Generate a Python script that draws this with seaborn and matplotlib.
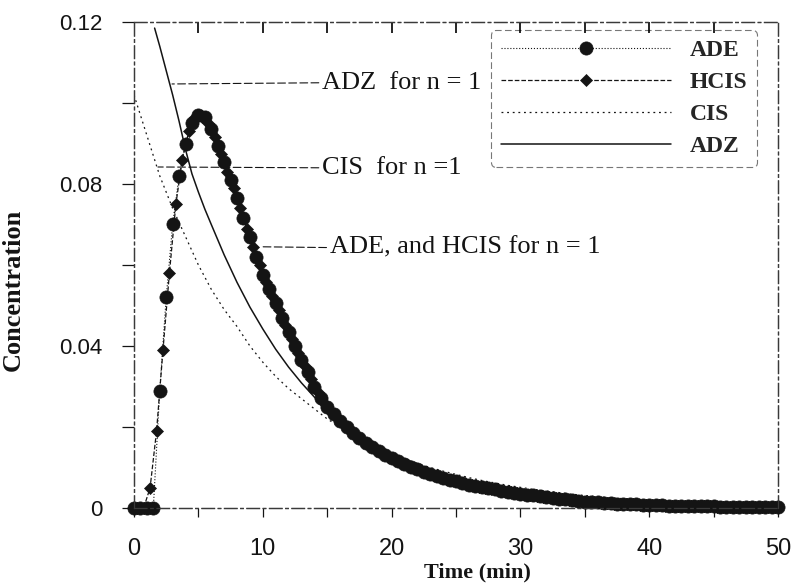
import numpy as np
import pandas as pd
import seaborn as sns
import matplotlib.pyplot as plt
from matplotlib.ticker import MultipleLocator, FuncFormatter

# ADE (cercles) : pas de 0.5 min
ade_time = np.linspace(0, 50, 101)
ade_conc = [
    0, 0, 0, 0,
    0.029, 0.052, 0.070, 0.082, 0.090, 0.095,
    0.097, 0.0965, 0.0935, 0.0895, 0.0855, 0.081, 0.0765, 0.0715, 0.067, 0.062,
    0.0575, 0.054, 0.0506, 0.047, 0.0435, 0.040, 0.0365, 0.0335, 0.030, 0.0272,
    0.025, 0.0232, 0.0215, 0.0199, 0.0185, 0.0172, 0.016, 0.015, 0.014, 0.0131,
    0.0123, 0.0116, 0.0109, 0.0102, 0.0096, 0.009, 0.0085, 0.008, 0.0075, 0.007,
    0.0066, 0.0062, 0.0058, 0.0055, 0.0052, 0.0049, 0.0046, 0.0043, 0.004, 0.0038,
    0.0035, 0.0033, 0.0031, 0.0029, 0.0027, 0.0025, 0.0023, 0.0021, 0.0019, 0.0018,
    0.0016, 0.0015, 0.0014, 0.0013, 0.0012, 0.0011, 0.001, 0.0009, 0.0009, 0.0008,
    0.0008, 0.0007, 0.0007, 0.0006, 0.0006, 0.0005, 0.0005, 0.0005, 0.0004, 0.0004,
    0.0004, 0.0003, 0.0003, 0.0003, 0.0003, 0.0002, 0.0002, 0.0002, 0.0002, 0.0002,
    0.0002]

# HCIS (losanges) : décalé de 0.25 min
hcis_time = np.linspace(0.25, 49.75, 100)
hcis_conc = [
    0, 0,
    0.005, 0.019, 0.039, 0.058, 0.075, 0.086, 0.093, 0.0965,
    0.0968, 0.095, 0.0915, 0.0875, 0.083, 0.079, 0.074, 0.069, 0.0645, 0.060,
    0.0557, 0.0523, 0.0488, 0.0452, 0.0418, 0.0382, 0.035, 0.0318, 0.0286, 0.026,
    0.024, 0.0223, 0.0207, 0.0192, 0.0178, 0.0166, 0.0155, 0.0145, 0.0135, 0.0127,
    0.0119, 0.0112, 0.0105, 0.0099, 0.0093, 0.0087, 0.0082, 0.0077, 0.0072, 0.0068,
    0.0064, 0.006, 0.0056, 0.0053, 0.005, 0.0047, 0.0044, 0.0041, 0.0039, 0.0036,
    0.0034, 0.0032, 0.003, 0.0028, 0.0026, 0.0024, 0.0022, 0.002, 0.0019, 0.0017,
    0.0016, 0.0015, 0.0013, 0.0012, 0.0011, 0.001, 0.001, 0.0009, 0.0008, 0.0008,
    0.0007, 0.0007, 0.0006, 0.0006, 0.0005, 0.0005, 0.0005, 0.0004, 0.0004, 0.0004,
    0.0003, 0.0003, 0.0003, 0.0003, 0.0002, 0.0002, 0.0002, 0.0002, 0.0002, 0.0002]

# CIS (pointillés) : pas de 1 min
cis_time = np.linspace(0, 50, 51)
cis_conc = [
    0.102, 0.092, 0.082, 0.074, 0.067, 0.060, 0.054, 0.049, 0.0448, 0.040,
    0.036, 0.0325, 0.0295, 0.027, 0.0245, 0.022, 0.020, 0.018, 0.0163, 0.0148,
    0.0135, 0.0122, 0.011, 0.010, 0.0091, 0.0083, 0.0075, 0.0068, 0.0062, 0.0056,
    0.0051, 0.0046, 0.0042, 0.0038, 0.0034, 0.0031, 0.0028, 0.0025, 0.0023, 0.0021,
    0.0019, 0.0017, 0.0015, 0.0014, 0.0013, 0.0011, 0.001, 0.0009, 0.0008, 0.0008,
    0.0007]

# ADZ (trait plein)
adz_time = [1.6, 2, 2.5, 3, 3.5, 4, 4.5, 5, 5.5, 6, 7, 8, 9, 10, 11, 12, 13, 14,
            15, 16, 18, 20, 22, 24, 26, 28, 30, 32, 34, 36, 38, 40, 42, 44, 46, 48, 50]
adz_conc = [0.1185, 0.114, 0.108, 0.102, 0.0955, 0.0885, 0.0825, 0.078, 0.0738,
            0.070, 0.0625, 0.0557, 0.0496, 0.0442, 0.0392, 0.0348, 0.0309, 0.0274,
            0.0243, 0.0216, 0.0166, 0.0127, 0.0098, 0.0077, 0.006, 0.0047, 0.0036,
            0.0028, 0.0021, 0.0016, 0.0012, 0.0009, 0.0007, 0.0005, 0.0004, 0.0003,
            0.0002]

series_labels = ['ADE', 'HCIS', 'CIS', 'ADZ']
top_ticks = np.arange(5, 50, 5)

sns.set_theme(style="ticks")
plt.rcParams['font.family'] = ['Liberation Sans', 'DejaVu Sans']

ink = '#141414'
fig = plt.figure(figsize=(7.92, 5.85), dpi=100)
fig.patch.set_facecolor('white')
ax = fig.add_axes([134 / 792, 1 - 508 / 585, 644 / 792, 486 / 585])
ax.set_facecolor('white')

sns.lineplot(x=ade_time, y=ade_conc, ax=ax, color=ink, linestyle=':', linewidth=0.8,
             marker='o', markersize=9.5, markeredgecolor=ink, markeredgewidth=0.5,
             estimator=None, sort=False, clip_on=False, zorder=3)
sns.lineplot(x=hcis_time, y=hcis_conc, ax=ax, color=ink, linestyle='--', linewidth=0.9,
             marker='D', markersize=6, markeredgecolor=ink, markeredgewidth=0.5,
             estimator=None, sort=False, clip_on=False, zorder=4)
sns.lineplot(x=cis_time, y=cis_conc, ax=ax, color=ink, linestyle=(0, (1.5, 3)),
             linewidth=0.9, estimator=None, sort=False, zorder=2)
sns.lineplot(x=adz_time, y=adz_conc, ax=ax, color=ink, linestyle='-', linewidth=1.1,
             estimator=None, sort=False, zorder=5)

ax.set_xlim(0, 50)
ax.set_ylim(0, 0.12)

# Axes et graduations
ax.xaxis.set_major_locator(MultipleLocator(10))
ax.xaxis.set_minor_locator(MultipleLocator(5))
ax.yaxis.set_major_locator(MultipleLocator(0.04))
ax.yaxis.set_minor_locator(MultipleLocator(0.02))
ax.yaxis.set_major_formatter(FuncFormatter(lambda v, _: '0' if abs(v) < 1e-9 else f'{v:.2f}'))
ax.tick_params(axis='x', which='both', bottom=True, top=False, direction='out',
               length=6.5, width=0.9, color=ink, pad=15, labelsize=17, labelcolor=ink)
ax.tick_params(axis='y', which='both', left=True, right=False, direction='out',
               length=9, width=0.9, color=ink, pad=14, labelsize=16, labelcolor=ink)

for s in ax.spines.values():
    s.set_linestyle((0, (10, 3, 2, 3)))
    s.set_linewidth(0.9)
    s.set_color('#3a3a3a')

serif_bold = dict(family=['Liberation Serif', 'DejaVu Serif'], weight='bold', color=ink)
ax.set_xlabel('Time (min)', fontsize=16, **serif_bold)
ax.xaxis.set_label_coords(0.534, -0.113)
ax.set_ylabel('Concentration', fontsize=19, **serif_bold)
ax.yaxis.set_label_coords(-0.169, 0.449)

# Annotations avec traits de rappel
ann = dict(family=['Liberation Serif', 'DejaVu Serif'], size=19, color=ink,
           ha='left', va='center', textcoords='data')
leader = dict(arrowstyle='-', linestyle=(0, (7, 3)), lw=0.8, color=ink,
              relpos=(0, 0.5), shrinkA=0, shrinkB=0)
ax.annotate('ADZ  for n = 1', xy=(2.95, 0.1047), xytext=(14.6, 0.1050),
            arrowprops=leader, **ann)
ax.annotate('CIS  for n =1', xy=(1.86, 0.0842), xytext=(14.6, 0.0840),
            arrowprops=leader, **ann)
ax.annotate('ADE, and HCIS for n = 1', xy=(9.8, 0.0645), xytext=(15.2, 0.0643),
            arrowprops=leader, **ann)

# Légende
handles = ax.get_lines()[:4]
leg = ax.legend(handles, series_labels, loc='upper right',
                bbox_to_anchor=(0.967, 0.9835), borderaxespad=0, numpoints=1,
                prop=dict(family='Liberation Serif', weight='bold', size=17),
                handlelength=7.2, handletextpad=0.8, labelspacing=0.45,
                borderpad=0.4, fancybox=True, framealpha=1, facecolor='white',
                edgecolor='#777777')
leg.get_frame().set_linestyle((0, (6, 3)))
leg.get_frame().set_linewidth(0.8)

# petites graduations intérieures en haut : axe jumeau ajouté en dernier
top = ax.twiny()
top.set_xlim(0, 50)
top.set_xticks(top_ticks)
top.tick_params(axis='x', which='major', top=True, bottom=False, direction='in',
                length=8, width=1.2, color='black', labeltop=False, labelbottom=False)
top.set_zorder(10)
top.patch.set_visible(False)
for s in top.spines.values():
    s.set_linestyle((0, (10, 3, 2, 3)))
    s.set_linewidth(0.9)
    s.set_color('#3a3a3a')

fig.savefig('out.png', dpi=100)
